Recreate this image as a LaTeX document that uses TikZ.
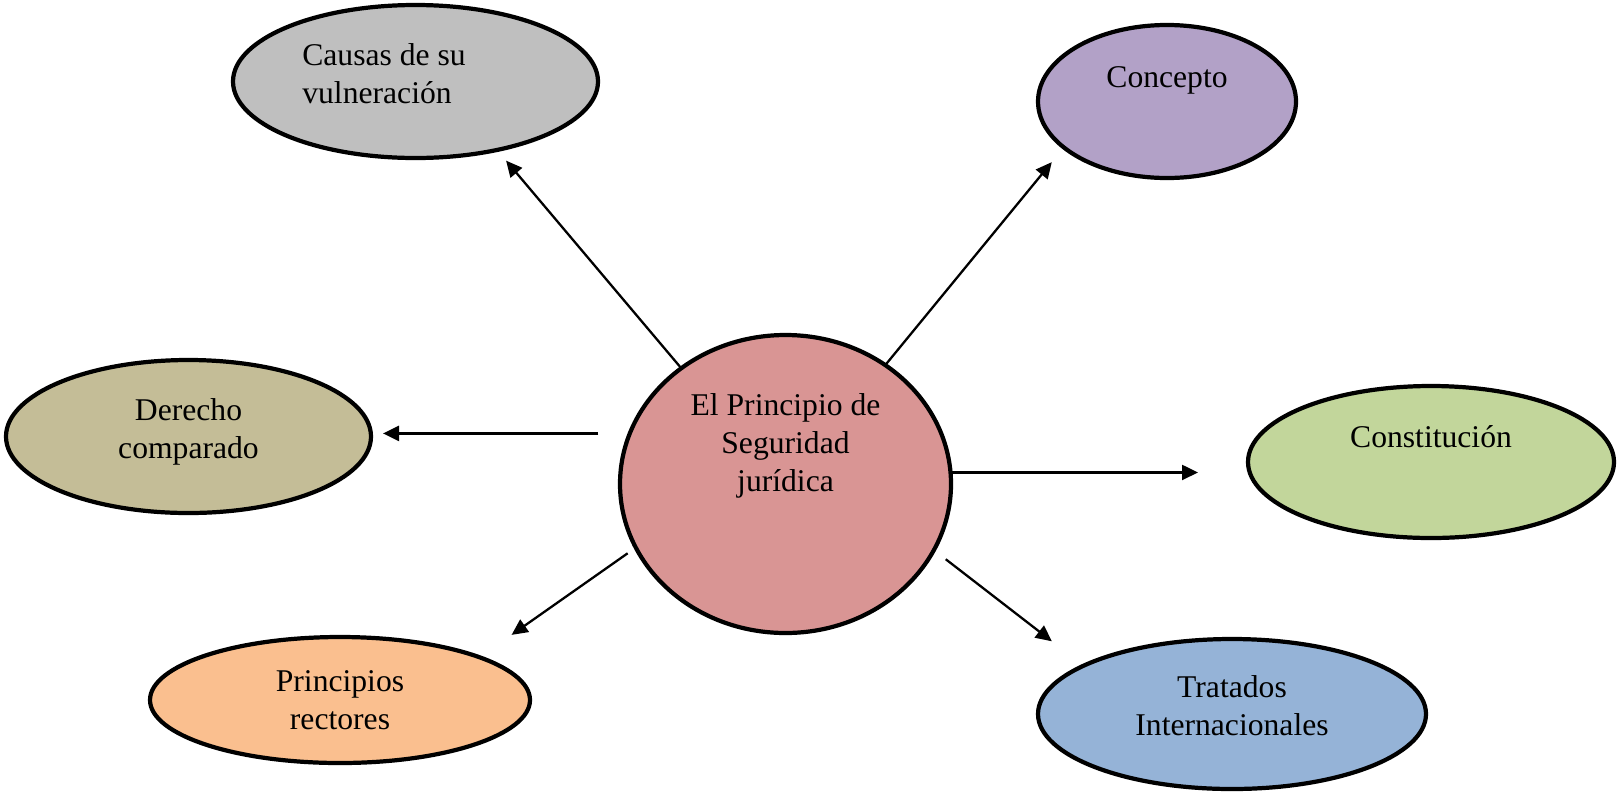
\documentclass[tikz,border=0pt]{standalone}
\usepackage{fontspec}
\setmainfont{Liberation Serif}
\usetikzlibrary{arrows.meta,positioning,shapes.geometric}

\definecolor{rosa}{HTML}{D99594}
\definecolor{gris}{HTML}{BFBFBF}
\definecolor{lila}{HTML}{B2A1C7}
\definecolor{caqui}{HTML}{C4BD97}
\definecolor{verde}{HTML}{C2D69B}
\definecolor{melon}{HTML}{FABF8F}
\definecolor{azul}{HTML}{95B3D7}

\begin{document}
\begin{tikzpicture}[link/.style={-{Triangle[length=.32cm,width=.3cm]}, line width=1.3pt}]
\tikzstyle{blob} = [ellipse, draw, line width=2.4pt, inner sep=0pt, outer sep=0pt]
\tikzstyle{lbl} = [align=center, inner sep=0pt, font=\fontsize{18}{21.5}\selectfont]
\useasboundingbox (0,0) rectangle (32.34,-15.9);
% ellipses
\node[blob, fill=rosa, minimum width=6.62cm, minimum height=5.96cm] (psj) at (15.71,-9.68) {};
\node[blob, fill=gris, minimum width=7.30cm, minimum height=3.06cm] (causas) at (8.31,-1.63) {};
\node[blob, fill=lila, minimum width=5.16cm, minimum height=3.06cm] (concepto) at (23.34,-2.03) {};
\node[blob, fill=caqui, minimum width=7.30cm, minimum height=3.06cm] (derecho) at (3.77,-8.73) {};
\node[blob, fill=verde, minimum width=7.32cm, minimum height=3.04cm] (constitucion) at (28.62,-9.24) {};
\node[blob, fill=melon, minimum width=7.60cm, minimum height=2.52cm] (principios) at (6.80,-14.00) {};
\node[blob, fill=azul, minimum width=7.76cm, minimum height=3.00cm] (tratados) at (24.64,-14.28) {};
% texts
\node[lbl] (psj-t) at ([yshift=.76cm]psj.center) {El Principio de\\Seguridad\\jurídica};
\node[lbl, align=left, anchor=west] (causas-t) at ([xshift=-2.27cm, yshift=.15cm]causas.center) {Causas de su\\vulneración};
\node[lbl] (concepto-t) at ([yshift=.43cm]concepto.center) {Concepto};
\node[lbl] (derecho-t) at ([yshift=.10cm]derecho.center) {Derecho\\comparado};
\node[lbl] (constitucion-t) at ([yshift=.50cm]constitucion.center) {Constitución};
\node[lbl] (principios-t) at (principios.center) {Principios\\rectores};
\node[lbl] (tratados-t) at ([yshift=.16cm]tratados.center) {Tratados\\Internacionales};
% arrows
\draw[link, shorten >=.28cm] (psj.132) -- (causas.320);
\draw[link, shorten >=.38cm] (psj.50) -- (concepto.204);
\draw[link, shorten <=.63cm, shorten >=.24cm] (psj.162) -- (psj.162 -| derecho.east);
\draw[link, shorten >=1cm] (psj.4) -- (psj.4 -| constitucion.west);
\draw[link, shorten <=.2cm, shorten >=.78cm] (psj.203) -- (principios.17);
\draw[link, shorten <=.3cm, shorten >=.8cm] (psj.336) -- (tratados.162);
\end{tikzpicture}
\end{document}
